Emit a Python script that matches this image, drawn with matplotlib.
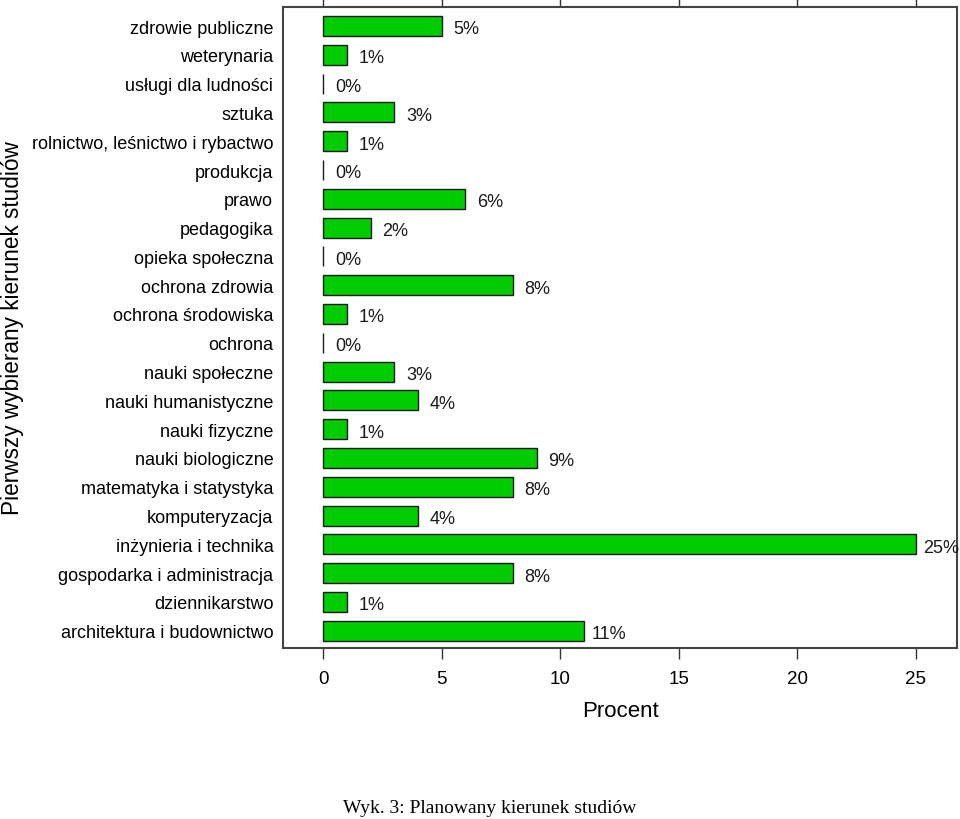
import matplotlib
matplotlib.use("Agg")
import matplotlib.pyplot as plt

plt.rcParams["font.family"] = ["Liberation Sans", "DejaVu Sans"]

kierunki = [
    "zdrowie publiczne",
    "weterynaria",
    "usługi dla ludności",
    "sztuka",
    "rolnictwo, leśnictwo i rybactwo",
    "produkcja",
    "prawo",
    "pedagogika",
    "opieka społeczna",
    "ochrona zdrowia",
    "ochrona środowiska",
    "ochrona",
    "nauki społeczne",
    "nauki humanistyczne",
    "nauki fizyczne",
    "nauki biologiczne",
    "matematyka i statystyka",
    "komputeryzacja",
    "inżynieria i technika",
    "gospodarka i administracja",
    "dziennikarstwo",
    "architektura i budownictwo",
]
procent = [5, 1, 0, 3, 1, 0, 6, 2, 0, 8, 1, 0, 3, 4, 1, 9, 8, 4, 25, 8, 1, 11]
etykiety = [f"{p}%" for p in procent]

fig = plt.figure(figsize=(9.6, 8.2), dpi=100)
ax = fig.add_axes([0.2948, 0.2085, 0.7021, 0.7817])

pos = list(range(len(kierunki)))
ax.barh(pos, procent, height=0.69, color="#00cc00", edgecolor="#1a1a1a",
        linewidth=1.0, zorder=2)
for y, p, t in zip(pos, procent, etykiety):
    ax.text(p + 1.05, y + 0.1, t, ha="center", va="center", fontsize=13,
            color="#1a1a1a")

ax.set_ylim(len(kierunki) - 1 + 0.6, -0.66)
ax.set_xlim(-1.69, 26.73)
ax.set_yticks(pos)
ax.set_yticklabels(kierunki, fontsize=13)
ax.set_xticks([0, 5, 10, 15, 20, 25])
ax.tick_params(axis="x", which="both", direction="out", length=8, width=1,
               top=True, labeltop=False, labelsize=13.5, pad=8,
               color="#333333")
ax.tick_params(axis="y", length=0, pad=7)
for s in ax.spines.values():
    s.set_color("#444444")
    s.set_linewidth(1.5)

ax.set_xlabel("Procent", fontsize=16, labelpad=9)
fig.text(0.0135, 0.6, "Pierwszy wybierany kierunek studiów", rotation=90,
         ha="center", va="center", fontsize=16.3)
fig.text(0.51, 0.014, "Wyk. 3: Planowany kierunek studiów", ha="center",
         va="center", fontsize=14, family=["Liberation Serif", "DejaVu Serif"])

fig.savefig("out.png", dpi=100)
